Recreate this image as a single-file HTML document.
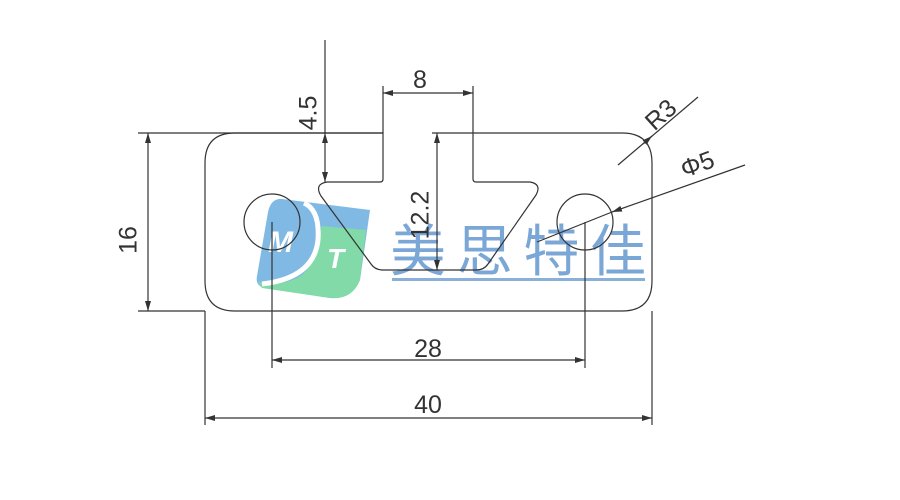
<!DOCTYPE html>
<html><head><style>body{margin:0;background:#fff}svg{display:block}</style></head><body>
<svg width="900" height="500" viewBox="0 0 900 500" xmlns="http://www.w3.org/2000/svg" font-family="Liberation Sans, sans-serif">
<defs>
<marker id="a" viewBox="0 0 10 6" refX="10" refY="3" markerWidth="10" markerHeight="6" orient="auto-start-reverse" markerUnits="userSpaceOnUse"><path d="M0,0 L10,3 L0,6 z" fill="#333"/></marker>
</defs>
<!-- logo -->
<g opacity="0.85">
<path d="M282,199 L370,210 L360,280 Q352,300 330,298 L265,288 Q255,286 257,276 L268,212 Q271,198 282,199 Z" fill="#6aaee0"/>
<path d="M322,226 L366,230 L360,280 Q352,300 330,298 L262,288 L258,282 Q300,288 312,262 Z" fill="#6cd49a"/>
<path d="M304,203 Q320,210 318,240 Q314,278 262,284" stroke="#fff" stroke-width="5" fill="none"/>
<text x="268" y="252" font-size="30" font-weight="bold" font-style="italic" fill="#fff">M</text>
<text x="327" y="268" font-size="28" font-weight="bold" font-style="italic" fill="#fff">T</text>
</g>
<text x="390" y="271" font-size="56" fill="#7aa7d6" font-family="Noto Sans CJK SC, sans-serif" textLength="256">美思特佳</text>
<rect x="392" y="278" width="253" height="3" fill="#8ab0d8"/>
<g stroke="#333" stroke-width="1.2" fill="none">
<path d="M383,133 L235,133 Q205,133 205,163 L205,281 Q205,311 235,311 L622,311 Q652,311 652,281 L652,163 Q652,133 622,133 L473,133 L473,179 Q473,182 476,182 L530,182 Q542,184 536,195 L488,264 Q484,270 476,270 L383,270 Q375,270 371,264 L321,196 Q314,184 327,182 L380,182 Q383,182 383,179 Z"/>
<circle cx="272" cy="222" r="28"/>
<circle cx="585" cy="222" r="28"/>
<line x1="138" y1="133" x2="383" y2="133"/>
<line x1="138" y1="311" x2="205" y2="311"/>
<line x1="205" y1="311" x2="205" y2="425"/>
<line x1="652" y1="311" x2="652" y2="425"/>
<line x1="272" y1="222" x2="272" y2="368"/>
<line x1="585" y1="222" x2="585" y2="368"/>
<line x1="383" y1="133" x2="383" y2="86"/>
<line x1="473" y1="133" x2="473" y2="86"/>
<line x1="432" y1="133" x2="473" y2="133"/>
<line x1="325" y1="40" x2="325" y2="133"/>
<line x1="148" y1="133" x2="148" y2="311" marker-start="url(#a)" marker-end="url(#a)"/>
<line x1="205" y1="418" x2="652" y2="418" marker-start="url(#a)" marker-end="url(#a)"/>
<line x1="272" y1="360" x2="585" y2="360" marker-start="url(#a)" marker-end="url(#a)"/>
<line x1="383" y1="93" x2="473" y2="93" marker-start="url(#a)" marker-end="url(#a)"/>
<line x1="325" y1="133" x2="325" y2="182" marker-start="url(#a)" marker-end="url(#a)"/>
<line x1="437" y1="133" x2="437" y2="270" marker-start="url(#a)" marker-end="url(#a)"/>
<line x1="618" y1="165" x2="698" y2="97"/>
<line x1="643" y1="144" x2="652" y2="136" marker-end="url(#a)"/>
<line x1="745" y1="165" x2="612" y2="212" marker-end="url(#a)"/>
<line x1="612" y1="212" x2="537" y2="242"/>
</g>
<g fill="#333" font-size="25">
<text x="130" y="240" transform="rotate(-90 130 240)" text-anchor="middle" dominant-baseline="middle">16</text>
<text x="428" y="413" text-anchor="middle">40</text>
<text x="428" y="357" text-anchor="middle">28</text>
<text x="420" y="88" text-anchor="middle">8</text>
<text x="310" y="113" transform="rotate(-90 310 113)" text-anchor="middle" dominant-baseline="middle">4.5</text>
<text x="422" y="215" transform="rotate(-90 422 215)" text-anchor="middle" dominant-baseline="middle">12.2</text>
<text x="662" y="116" transform="rotate(-42 662 116)" text-anchor="middle" dominant-baseline="middle">R3</text>
<text x="698" y="166" transform="rotate(-20 698 166)" text-anchor="middle" dominant-baseline="middle">Φ5</text>
</g>
</svg>
</body></html>
